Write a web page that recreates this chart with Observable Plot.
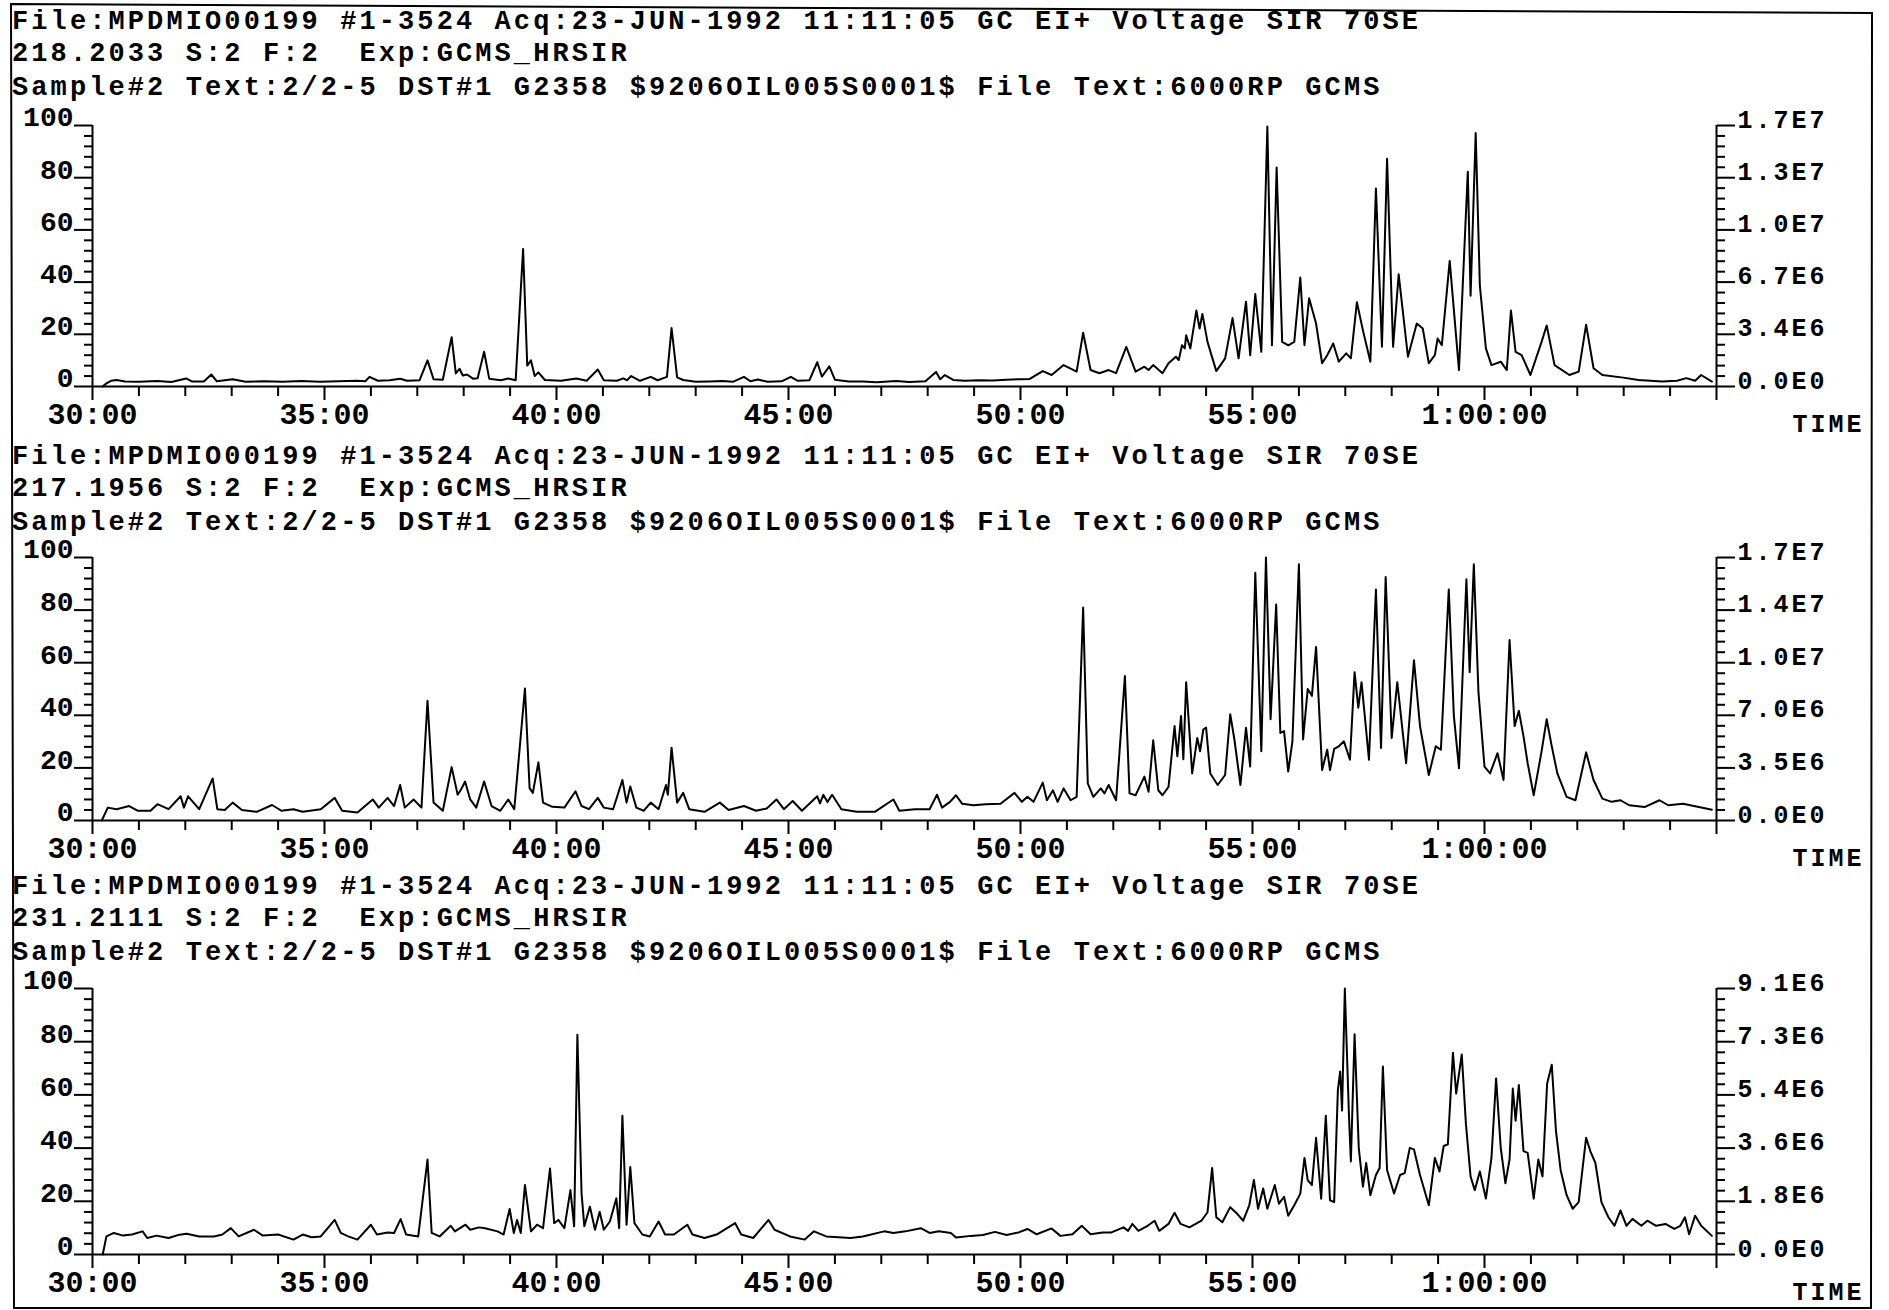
<!DOCTYPE html>
<html><head><meta charset="utf-8">
<script src="https://cdn.jsdelivr.net/npm/d3@7"></script>
<script src="https://cdn.jsdelivr.net/npm/@observablehq/plot@0.6"></script>
<style>
html,body{margin:0;padding:0;background:#fff;}
body{width:1889px;height:1310px;position:relative;overflow:hidden;font-family:"Liberation Mono",monospace;font-weight:bold;color:#000;}
.hdr{position:absolute;left:12px;font-size:27px;line-height:27px;letter-spacing:3.1px;white-space:pre;}
.panel{position:absolute;left:0;}
.rlab text{letter-spacing:3px;}
</style></head><body>
<script>
// ---- text & tick labels ----
const fileLine = "File:MPDMIO00199 #1-3524 Acq:23-JUN-1992 11:11:05 GC EI+ Voltage SIR 70SE";
const sampleLine = "Sample#2 Text:2/2-5 DST#1 G2358 $9206OIL005S0001$ File Text:6000RP GCMS";
const masses = ["218.2033", "217.1956", "231.2111"];
const yTicks = [0, 20, 40, 60, 80, 100];
const rightLabels218 = ["0.0E0", "3.4E6", "6.7E6", "1.0E7", "1.3E7", "1.7E7"];
const rightLabels217 = ["0.0E0", "3.5E6", "7.0E6", "1.0E7", "1.4E7", "1.7E7"];
const rightLabels231 = ["0.0E0", "1.8E6", "3.6E6", "5.4E6", "7.3E6", "9.1E6"];
const xTickValues = [30, 35, 40, 45, 50, 55, 60];
const xTickLabels = ["30:00", "35:00", "40:00", "45:00", "50:00", "55:00", "1:00:00"];

// ---- traces: [retention time (min), relative intensity %] ----
const trace218 = [[30.22,0],[30.30,1.2],[30.40,2.2],[30.52,2.5],[30.70,1.9],[31.00,1.8],[31.40,2.1],[31.70,1.7],[32.02,3.1],[32.15,1.9],[32.40,1.9],[32.56,4.6],[32.68,2.0],[33.02,2.8],[33.30,1.8],[33.70,2.0],[34.10,1.8],[34.50,2.1],[34.90,1.8],[35.30,2.0],[35.70,2.2],[35.88,2.0],[35.97,3.7],[36.15,2.2],[36.40,2.4],[36.63,3.0],[36.78,2.2],[37.05,2.4],[37.22,10.0],[37.35,2.8],[37.55,2.6],[37.74,18.9],[37.83,5.0],[37.91,6.8],[37.98,4.2],[38.07,4.6],[38.20,3.0],[38.30,3.2],[38.44,13.3],[38.55,3.0],[38.80,2.4],[38.96,3.1],[39.12,2.4],[39.28,52.7],[39.37,8.0],[39.45,10.0],[39.53,4.0],[39.61,5.4],[39.75,2.5],[40.10,2.2],[40.43,3.1],[40.65,2.2],[40.89,6.5],[41.02,2.4],[41.30,2.2],[41.44,3.1],[41.52,2.4],[41.61,4.0],[41.80,2.2],[42.03,3.7],[42.18,2.4],[42.38,3.7],[42.48,22.4],[42.60,3.5],[42.73,2.5],[43.00,1.8],[43.30,1.9],[43.58,2.1],[43.80,1.8],[44.04,3.7],[44.18,2.0],[44.34,2.7],[44.55,1.8],[44.85,2.0],[45.05,3.7],[45.20,2.2],[45.45,2.4],[45.62,9.3],[45.72,3.8],[45.88,7.7],[46.00,2.6],[46.30,1.9],[46.60,1.9],[46.90,1.6],[47.32,2.1],[47.60,1.7],[47.95,2.0],[48.18,5.6],[48.27,2.8],[48.37,4.4],[48.55,2.5],[48.80,2.2],[49.10,2.4],[49.40,2.3],[49.70,2.6],[50.00,2.8],[50.20,2.9],[50.48,5.9],[50.67,4.4],[50.93,8.2],[51.21,5.7],[51.35,20.6],[51.51,6.3],[51.70,5.1],[51.90,6.3],[52.06,5.1],[52.28,15.2],[52.48,5.7],[52.67,7.6],[52.76,6.3],[52.86,8.2],[53.06,5.1],[53.19,8.9],[53.35,11.4],[53.41,10.1],[53.48,15.8],[53.54,14.6],[53.57,19.6],[53.66,14.6],[53.79,29.1],[53.86,22.2],[53.92,27.8],[54.03,17.1],[54.22,5.9],[54.41,10.8],[54.57,26.2],[54.70,10.8],[54.86,32.5],[54.95,12.0],[55.06,35.4],[55.19,13.3],[55.32,99.6],[55.42,15.8],[55.52,83.9],[55.64,17.1],[55.77,15.8],[55.90,17.1],[56.03,41.8],[56.12,15.8],[56.22,33.8],[56.37,24.1],[56.50,8.9],[56.61,12.0],[56.74,16.5],[56.86,9.5],[57.02,12.7],[57.12,10.8],[57.25,32.3],[57.38,21.5],[57.54,9.5],[57.66,75.9],[57.79,15.2],[57.90,87.3],[58.03,15.2],[58.15,43.0],[58.35,11.4],[58.54,24.1],[58.67,22.2],[58.80,8.9],[58.93,12.0],[58.99,18.4],[59.08,15.8],[59.25,48.1],[59.45,6.3],[59.64,82.3],[59.70,34.8],[59.81,97.1],[59.90,38.6],[60.03,14.6],[60.15,8.2],[60.35,9.5],[60.48,6.3],[60.57,29.1],[60.67,13.3],[60.80,12.0],[60.99,4.4],[61.23,17.1],[61.34,23.4],[61.51,8.2],[61.83,4.4],[62.03,5.7],[62.19,23.7],[62.35,7.0],[62.54,4.4],[62.99,3.4],[63.32,2.5],[63.83,1.9],[64.15,2.2],[64.35,3.2],[64.54,2.2],[64.67,4.4],[64.90,1.9]];

const trace217 = [[30.20,0],[30.33,4.9],[30.52,4.3],[30.79,5.5],[30.98,3.7],[31.25,3.7],[31.40,6.2],[31.64,4.3],[31.90,9.2],[31.97,4.9],[32.06,9.2],[32.30,4.3],[32.59,16.0],[32.69,4.3],[32.85,4.0],[33.02,6.8],[33.22,4.0],[33.54,3.3],[33.87,5.9],[34.07,3.7],[34.33,4.3],[34.53,3.3],[34.92,4.3],[35.22,8.6],[35.38,3.7],[35.71,3.0],[36.04,8.0],[36.17,4.9],[36.36,8.6],[36.50,5.5],[36.63,13.5],[36.73,4.9],[36.92,8.0],[37.09,4.9],[37.22,45.5],[37.35,6.8],[37.55,3.7],[37.74,20.3],[37.87,9.8],[37.94,11.7],[38.03,14.8],[38.14,8.0],[38.27,4.9],[38.44,14.8],[38.60,5.5],[38.79,3.7],[38.96,8.0],[39.09,4.3],[39.32,50.2],[39.42,12.3],[39.49,10.5],[39.61,22.1],[39.71,6.8],[39.91,5.2],[40.17,4.9],[40.41,11.1],[40.54,5.5],[40.70,4.3],[40.89,8.6],[41.02,4.9],[41.22,4.3],[41.42,15.4],[41.51,6.8],[41.59,12.9],[41.72,4.9],[41.88,3.7],[42.03,6.8],[42.20,4.3],[42.36,13.5],[42.40,9.8],[42.48,27.7],[42.60,6.8],[42.73,10.5],[42.86,4.3],[43.19,3.3],[43.52,6.8],[43.71,4.0],[44.04,5.5],[44.30,3.7],[44.53,4.6],[44.74,8.0],[44.90,4.3],[45.09,7.4],[45.29,3.7],[45.62,9.2],[45.68,6.5],[45.75,9.8],[45.84,7.0],[45.94,9.8],[46.14,4.3],[46.47,3.3],[46.86,3.3],[47.26,8.0],[47.39,3.7],[47.72,4.3],[48.04,4.3],[48.20,9.8],[48.31,4.9],[48.48,7.1],[48.61,9.6],[48.74,6.4],[48.99,5.8],[49.25,6.2],[49.57,6.4],[49.87,10.5],[50.03,7.1],[50.15,9.0],[50.28,7.1],[50.48,14.4],[50.57,7.7],[50.70,11.5],[50.80,7.1],[50.93,12.2],[51.08,7.7],[51.21,9.0],[51.35,81.0],[51.45,14.1],[51.57,9.0],[51.73,12.2],[51.81,10.3],[51.90,13.5],[52.06,7.7],[52.25,54.9],[52.35,10.3],[52.48,9.6],[52.67,16.7],[52.76,10.9],[52.86,30.5],[52.97,11.5],[53.06,9.6],[53.19,12.8],[53.32,35.9],[53.38,24.4],[53.46,39.7],[53.51,23.3],[53.57,52.6],[53.70,17.9],[53.81,31.4],[53.87,26.3],[53.94,34.6],[54.00,35.3],[54.09,17.9],[54.25,13.5],[54.41,17.3],[54.52,40.4],[54.61,30.8],[54.74,13.5],[54.86,35.3],[54.95,20.5],[55.06,94.2],[55.19,26.3],[55.29,100],[55.39,38.5],[55.51,82.1],[55.60,33.3],[55.68,34.0],[55.77,18.6],[55.86,30.1],[56.00,97.4],[56.09,30.8],[56.19,50.0],[56.28,47.4],[56.37,66.0],[56.50,19.2],[56.61,26.9],[56.67,19.2],[56.76,27.2],[56.86,28.2],[56.97,30.1],[57.10,23.1],[57.20,56.4],[57.28,42.9],[57.35,52.6],[57.51,23.1],[57.66,87.8],[57.77,27.6],[57.87,92.6],[58.00,31.4],[58.12,52.6],[58.31,21.8],[58.48,60.9],[58.61,35.9],[58.80,17.3],[58.95,28.2],[59.06,26.9],[59.23,87.8],[59.34,39.7],[59.45,19.9],[59.61,91.7],[59.68,56.4],[59.77,97.4],[59.87,48.7],[60.00,20.5],[60.12,17.9],[60.28,25.6],[60.41,15.4],[60.54,68.6],[60.65,35.9],[60.74,41.7],[60.84,32.1],[60.93,21.8],[61.06,9.6],[61.23,26.3],[61.34,38.5],[61.45,28.2],[61.57,17.9],[61.77,9.0],[61.96,7.7],[62.19,25.9],[62.35,15.4],[62.54,8.3],[62.74,7.1],[62.93,7.7],[63.12,5.8],[63.45,5.1],[63.77,7.7],[63.96,5.8],[64.28,6.4],[64.54,5.4],[64.80,4.5],[64.90,4.1]];

const trace231 = [[30.22,0],[30.30,6.8],[30.46,8.1],[30.66,7.1],[30.85,7.5],[31.08,8.7],[31.18,6.2],[31.38,7.1],[31.64,6.2],[31.84,7.3],[32.03,7.8],[32.30,6.8],[32.62,6.8],[32.80,7.5],[32.98,9.9],[33.15,6.8],[33.48,9.3],[33.67,7.1],[34.00,7.5],[34.33,5.6],[34.53,7.5],[34.72,6.5],[34.92,6.8],[35.22,13.0],[35.35,8.1],[35.51,6.8],[35.71,5.6],[36.00,11.2],[36.13,7.5],[36.36,8.3],[36.50,8.1],[36.64,13.3],[36.76,7.5],[37.02,6.8],[37.22,35.7],[37.31,8.1],[37.48,6.8],[37.72,10.8],[37.81,8.7],[38.04,11.2],[38.14,9.3],[38.33,10.2],[38.46,9.9],[38.73,8.7],[38.86,7.5],[38.99,17.1],[39.08,8.1],[39.15,13.0],[39.23,8.1],[39.32,26.1],[39.45,8.7],[39.58,11.2],[39.71,9.9],[39.86,32.3],[39.95,11.8],[40.04,13.0],[40.17,9.9],[40.30,24.2],[40.38,10.6],[40.45,82.6],[40.54,23.0],[40.60,10.6],[40.72,18.0],[40.83,9.3],[40.93,16.1],[41.02,9.3],[41.15,12.4],[41.29,21.1],[41.35,9.9],[41.42,52.2],[41.51,11.2],[41.59,32.9],[41.68,11.8],[41.85,7.5],[42.01,6.8],[42.20,12.4],[42.34,7.5],[42.53,7.5],[42.82,11.2],[42.93,7.5],[43.19,6.2],[43.45,7.5],[43.85,11.8],[43.98,7.5],[44.24,6.2],[44.57,13.0],[44.70,9.3],[45.03,6.8],[45.35,5.6],[45.55,8.7],[45.81,6.8],[46.34,6.2],[46.60,6.8],[47.06,8.7],[47.26,8.1],[47.52,8.7],[47.85,9.9],[48.04,8.1],[48.24,8.7],[48.50,8.1],[48.61,6.4],[48.93,7.0],[49.19,7.3],[49.45,8.5],[49.70,7.3],[49.96,8.3],[50.15,9.6],[50.35,7.6],[50.67,9.8],[50.86,7.0],[51.12,7.6],[51.32,10.8],[51.51,7.6],[51.77,8.3],[51.96,8.3],[52.22,10.2],[52.32,8.9],[52.41,11.5],[52.54,8.9],[52.74,10.8],[52.89,12.7],[52.99,8.9],[53.19,11.5],[53.32,15.7],[53.45,11.5],[53.64,10.2],[53.90,12.7],[54.03,15.9],[54.13,32.5],[54.22,14.0],[54.35,12.1],[54.52,17.8],[54.67,15.3],[54.80,12.7],[54.93,18.5],[55.03,28.0],[55.12,17.2],[55.23,24.8],[55.32,17.2],[55.48,26.1],[55.57,19.1],[55.68,21.7],[55.77,14.6],[55.90,18.5],[56.03,22.9],[56.12,36.3],[56.19,28.0],[56.28,26.1],[56.37,43.9],[56.48,21.0],[56.58,52.2],[56.67,20.4],[56.76,19.7],[56.84,61.8],[56.89,68.8],[56.93,54.1],[56.99,100],[57.08,51.6],[57.12,35.0],[57.20,82.8],[57.29,40.1],[57.38,25.5],[57.45,34.4],[57.54,22.3],[57.66,29.9],[57.74,32.5],[57.81,70.7],[57.90,31.8],[58.05,22.9],[58.18,29.9],[58.28,30.6],[58.39,40.1],[58.48,39.5],[58.61,29.9],[58.80,18.5],[58.93,36.3],[59.03,31.2],[59.12,40.8],[59.21,41.4],[59.32,75.8],[59.39,60.5],[59.51,75.2],[59.60,49.0],[59.70,29.3],[59.79,24.2],[59.90,31.2],[60.03,21.0],[60.15,36.3],[60.25,66.2],[60.35,40.1],[60.45,26.8],[60.54,35.7],[60.61,62.4],[60.67,50.3],[60.74,63.7],[60.84,38.9],[60.93,38.2],[61.06,21.0],[61.16,35.7],[61.25,29.3],[61.35,64.3],[61.45,71.3],[61.54,46.5],[61.64,31.8],[61.77,22.3],[61.90,17.2],[62.03,19.7],[62.19,43.9],[62.28,38.9],[62.39,34.4],[62.52,19.7],[62.67,14.0],[62.80,10.8],[62.93,16.6],[63.06,10.8],[63.19,13.4],[63.38,10.8],[63.51,12.7],[63.70,10.8],[63.90,11.5],[64.09,9.6],[64.22,10.8],[64.32,14.0],[64.41,7.6],[64.54,14.6],[64.67,10.8],[64.90,7.0]];

// ---- layout (page pixels) ----
const layout = [
  {hdr: [21, 53, 87],    top: 125, bottom: 386},
  {hdr: [456, 488, 522], top: 557, bottom: 820},
  {hdr: [886, 918, 952], top: 988, bottom: 1254}
];
const traces = [trace218, trace217, trace231];
const rights = [rightLabels218, rightLabels217, rightLabels231];

// frame
const frame = d3.create("svg").attr("width", 1889).attr("height", 1310)
  .style("position", "absolute").style("left", "0").style("top", "0");
frame.append("polygon").attr("points", "11,4 1872,13 1871,1308 14,1308")
  .attr("fill", "none").attr("stroke", "#000").attr("stroke-width", 2);
document.body.appendChild(frame.node());

const minorY = d3.range(0, 101, 4).filter(v => v % 20 !== 0);
const minorX = d3.range(31, 65).filter(v => v % 5 !== 0);
const majorX = d3.range(30, 66, 5);
const blank = () => "";

layout.forEach((L, i) => {
  const lines = [fileLine, masses[i] + " S:2 F:2  Exp:GCMS_HRSIR", sampleLine];
  lines.forEach((t, k) => {
    const d = document.createElement("div");
    d.className = "hdr";
    d.style.top = (L.hdr[k] - 12) + "px";
    d.textContent = t;
    document.body.appendChild(d);
  });
  const mt = 22, mb = 60;
  const inner = L.bottom - L.top;
  const right = rights[i];
  const chart = Plot.plot({
    width: 1889,
    height: mt + inner + mb,
    marginLeft: 92, marginRight: 173, marginTop: mt, marginBottom: mb,
    x: {domain: [30, 65]},
    y: {domain: [0, 100]},
    style: "font-family:'Liberation Mono',monospace;font-weight:bold;background:transparent;overflow:visible;color:#000;",
    marks: [
      // left axis ticks + labels
      Plot.axisY({anchor: "left", ticks: minorY, tickSize: 8, tickFormat: blank, label: null, strokeWidth: 2}),
      Plot.axisY({anchor: "left", ticks: yTicks, tickSize: 18, tickFormat: blank, label: null, strokeWidth: 2}),
      Plot.axisY({anchor: "left", ticks: yTicks, tickSize: 0, tickPadding: 19, dy: -8, fontSize: 28, tickFormat: d => String(d), label: null}),
      // right axis ticks + labels
      Plot.axisY({anchor: "right", ticks: minorY, tickSize: 8, tickFormat: blank, label: null, strokeWidth: 2}),
      Plot.axisY({anchor: "right", ticks: yTicks, tickSize: 18, tickFormat: blank, label: null, strokeWidth: 2}),
      Plot.axisY({anchor: "right", ticks: yTicks, tickSize: 0, tickPadding: 21, dy: -6, fontSize: 25, tickFormat: d => right[yTicks.indexOf(d)], label: null, className: "rlab"}),
      // time axis
      Plot.axisX({anchor: "bottom", ticks: minorX, tickSize: 10, tickFormat: blank, label: null, strokeWidth: 2}),
      Plot.axisX({anchor: "bottom", ticks: majorX, tickSize: 14, tickFormat: blank, label: null, strokeWidth: 2}),
      Plot.axisX({anchor: "bottom", ticks: xTickValues, tickSize: 0, tickPadding: 16, fontSize: 30, tickFormat: d => xTickLabels[xTickValues.indexOf(d)], label: null}),
      Plot.ruleX([30, 65], {stroke: "#000", strokeWidth: 2}),
      Plot.ruleY([0], {stroke: "#000", strokeWidth: 2}),
      Plot.line(traces[i], {x: d => d[0], y: d => d[1], stroke: "#000", strokeWidth: 2}),
      Plot.text(["TIME"], {frameAnchor: "bottom-right", text: d => d, dx: 112, dy: 45, fontSize: 25, textAnchor: "middle", className: "rlab"})
    ]
  });
  const wrap = document.createElement("div");
  wrap.className = "panel";
  wrap.style.top = (L.top - mt) + "px";
  wrap.appendChild(chart);
  document.body.appendChild(wrap);
});
</script></body></html>
